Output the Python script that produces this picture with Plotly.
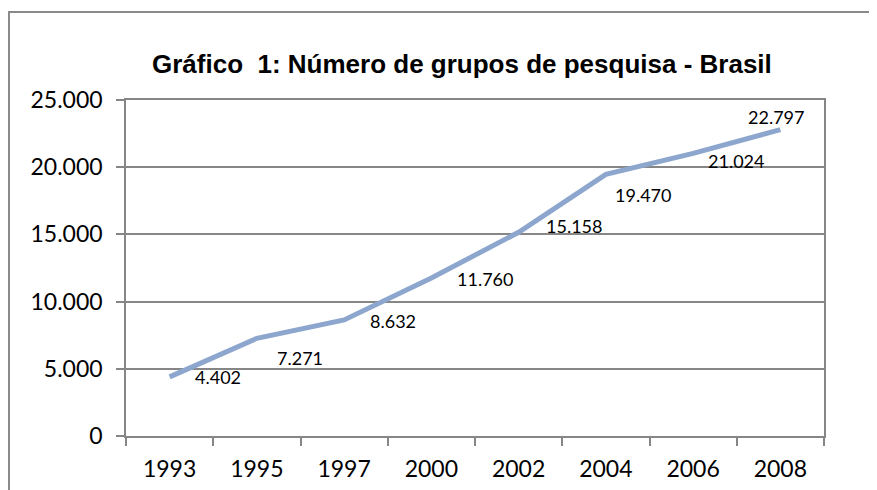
import plotly.graph_objects as go

years = ["1993", "1995", "1997", "2000", "2002", "2004", "2006", "2008"]
groups = [4402, 7271, 8632, 11760, 15158, 19470, 21024, 22797]
labels = ["4.402", "7.271", "8.632", "11.760", "15.158", "19.470", "21.024", "22.797"]
y_tickvals = [0, 5000, 10000, 15000, 20000, 25000]
y_ticktext = ["0", "5.000", "10.000", "15.000", "20.000", "25.000"]
title_text = "<b>Gráfico  1: Número de grupos de pesquisa - Brasil</b>"

# label placement offsets (pixels): left-edge shift, vertical shift (up positive)
label_dx = [23, 18, 24, 24, 25, 7, 13, -34]
label_dy = [0, -20, -1, -1, 6, -21, -8, 13]

OFF = 8  # page body margin
W, H = 877, 490
L, T = 126 - OFF, 100 - OFF
pw, ph = 698, 336
R, B = W - L - pw, H - T - ph

def px(x):
    return (x - OFF - L) / pw

def py(y):
    return (T + ph - (y - OFF)) / ph

fig = go.Figure()
fig.add_trace(go.Scatter(
    x=years, y=groups, mode="lines",
    line=dict(color="#8DA6CE", width=5),
    hoverinfo="skip", showlegend=False,
))

for i, (yv, t, dx, dy) in enumerate(zip(groups, labels, label_dx, label_dy)):
    fig.add_annotation(x=i, y=yv, xref="x", yref="y", text=t, showarrow=False,
                       xanchor="left", yanchor="middle",
                       xshift=dx, yshift=dy,
                       font=dict(family="Lato", size=18, color="#000000"))

fig.add_annotation(xref="paper", yref="paper", x=px(462), y=py(64),
                   text=title_text, showarrow=False,
                   xanchor="center", yanchor="middle",
                   font=dict(family="Liberation Sans", size=26, color="#000000"))

# outer chart border
fig.add_shape(type="rect", xref="paper", yref="paper",
              x0=px(9), x1=px(1000), y0=py(600), y1=py(12),
              line=dict(color="#8A8A8A", width=2), layer="below")

fig.update_layout(
    width=W, height=H,
    margin=dict(l=L, r=R, t=T, b=B, pad=0),
    paper_bgcolor="#FFFFFF", plot_bgcolor="#FFFFFF",
    showlegend=False,
    xaxis=dict(
        type="category", tickson="boundaries", ticks="outside", ticklen=8,
        tickcolor="#868686", tickwidth=1.5,
        showline=True, linecolor="#868686", linewidth=1.5, mirror=True,
        showgrid=False, zeroline=False, ticklabelstandoff=12,
        tickfont=dict(family="Lato", size=23, color="#000000"),
        range=[-0.5, 7.5],
    ),
    yaxis=dict(
        range=[0, 25000], tickvals=y_tickvals, ticktext=y_ticktext,
        ticks="outside", ticklen=8, tickcolor="#868686", tickwidth=1.5,
        showline=True, linecolor="#868686", linewidth=1.5, mirror=True,
        showgrid=True, gridcolor="#868686", gridwidth=1.5, zeroline=False,
        ticklabelstandoff=9,
        tickfont=dict(family="Lato", size=23, color="#000000"),
    ),
)

fig.write_html("out.html")
